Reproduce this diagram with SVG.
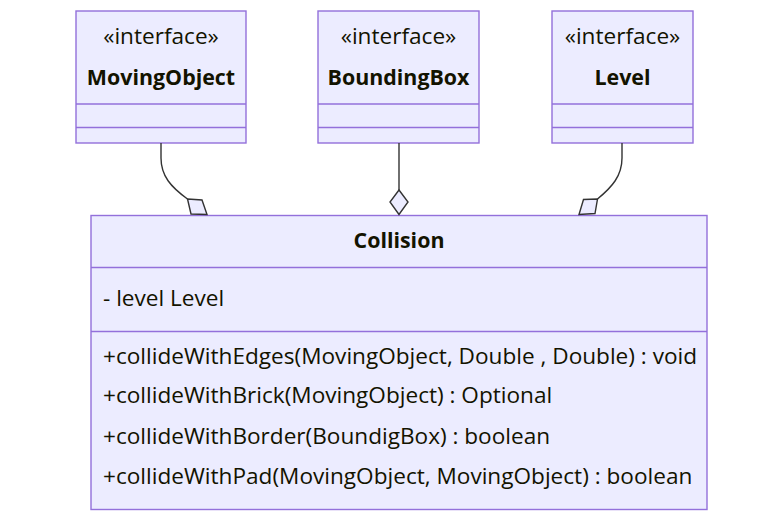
<svg xmlns="http://www.w3.org/2000/svg" width="783" height="521" viewBox="0 0 783 521">
<style>
.box{fill:#ECECFF;stroke:#9370DB;stroke-width:1.4}
.div{stroke:#9370DB;stroke-width:1.4;fill:none}
.t{font-family:"Open Sans","Noto Sans",sans-serif;font-size:22.6px;fill:#131300}
.b{font-weight:bold;font-size:21.4px}
.c{text-anchor:middle}
.edge{fill:none;stroke:#333333;stroke-width:1.4}
.dia{fill:#ECECFF;stroke:#333333;stroke-width:1.4;stroke-linejoin:miter}
</style>
<rect width="783" height="521" fill="#ffffff"/>
<g id="MovingObject">
<rect class="box" x="76" y="11" width="170" height="132"/>
<line class="div" x1="76" y1="104" x2="246" y2="104"/>
<line class="div" x1="76" y1="127.5" x2="246" y2="127.5"/>
<text class="t c" x="161" y="43.5">«interface»</text>
<text class="t b c" x="161" y="85">MovingObject</text>
</g>
<g id="BoundingBox">
<rect class="box" x="318" y="11" width="161" height="132"/>
<line class="div" x1="318" y1="104" x2="479" y2="104"/>
<line class="div" x1="318" y1="127.5" x2="479" y2="127.5"/>
<text class="t c" x="398.5" y="43.5">«interface»</text>
<text class="t b c" x="398.5" y="85">BoundingBox</text>
</g>
<g id="Level">
<rect class="box" x="552" y="11" width="141" height="132"/>
<line class="div" x1="552" y1="104" x2="693" y2="104"/>
<line class="div" x1="552" y1="127.5" x2="693" y2="127.5"/>
<text class="t c" x="622.5" y="43.5">«interface»</text>
<text class="t b c" x="622.5" y="85">Level</text>
</g>
<g id="Collision">
<rect class="box" x="91" y="215.5" width="616" height="294"/>
<line class="div" x1="91" y1="267.5" x2="707" y2="267.5"/>
<line class="div" x1="91" y1="331.5" x2="707" y2="331.5"/>
<text class="t b c" x="399" y="248">Collision</text>
<text class="t" x="103" y="306">- level Level</text>
<text class="t" x="103" y="363.5">+collideWithEdges(MovingObject, Double , Double) : void</text>
<text class="t" x="103" y="403">+collideWithBrick(MovingObject) : Optional</text>
<text class="t" x="103" y="443.5">+collideWithBorder(BoundigBox) : boolean</text>
<text class="t" x="103" y="483.5">+collideWithPad(MovingObject, MovingObject) : boolean</text>
</g>
<g id="connectors">
<path class="edge" d="M161,143 V158 C161,176 171,187 187.5,199"/>
<polygon class="dia" points="187.5,199 202,200 207,214.5 191,214"/>
<path class="edge" d="M399,143 V190"/>
<polygon class="dia" points="399,190 408,202 399,214.5 390,202"/>
<path class="edge" d="M622,143 V158 C622,176 612,187 597.5,199"/>
<polygon class="dia" points="597.5,199 583.5,199.5 579,214.5 595,213.5"/>
</g>
</svg>
